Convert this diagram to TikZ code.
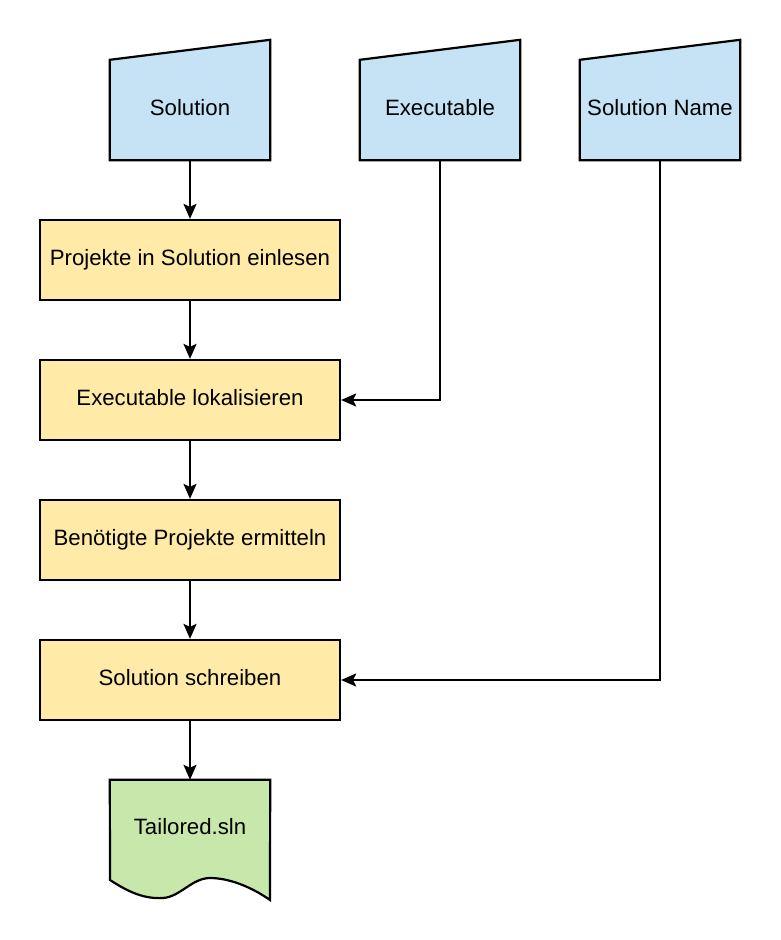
\documentclass[tikz,border=0pt]{standalone}
\usepackage{fontspec}
\setmainfont{Liberation Sans}
\usetikzlibrary{arrows.meta}
\definecolor{inblue}{RGB}{197,227,245}
\definecolor{procyel}{RGB}{255,234,167}
\definecolor{docgreen}{RGB}{200,231,170}
\tikzset{
  every node/.style={font=\fontsize{22.2}{26}\selectfont},
  shapeline/.style={draw=black, line width=2.2pt, line join=miter},
  proc/.style={shapeline, fill=procyel, minimum width=300pt, minimum height=80pt, inner sep=0pt, anchor=center, text height=16pt, text depth=5pt},
  frame/.style={minimum width=160pt, minimum height=120pt, inner sep=0pt},
  lbl/.style={inner sep=0pt},
  conn/.style={draw=black, line width=2.2pt, -{Stealth[length=15pt,width=13pt,inset=3pt]}},
}
\begin{document}
\begin{tikzpicture}[x=1pt,y=-1pt]
\useasboundingbox (0,0) rectangle (780,940);
% input frames
\node[frame] (sol) at (190,100) {};
\node[frame] (exe) at (440,100) {};
\node[frame] (sn)  at (660,100) {};
\foreach \n in {sol,exe,sn}{
  \draw[shapeline, fill=inblue] (\n.south west) -- (\n.south east) -- (\n.north east) -- ([yshift=-20pt]\n.north west) -- cycle;
}
\node[lbl] (solt) at (190,107.5) {Solution};
\node[lbl] (exet) at (440,107.5) {Executable};
\node[lbl] (snt)  at (660,107.5) {Solution Name};
% process boxes
\node[proc] (p1) at (190,260) {Projekte in Solution einlesen};
\node[proc] (p2) at (190,400) {Executable lokalisieren};
\node[proc] (p3) at (190,540) {Benötigte Projekte ermitteln};
\node[proc] (p4) at (190,680) {Solution schreiben};
% document
\node[minimum width=160pt, minimum height=120pt, inner sep=0pt] (doc) at (190,840) {};
\draw[shapeline, fill=docgreen] (doc.north west) -- (doc.north east) -- (270,900)
  .. controls (250,886) and (228,878) .. (210,878)
  .. controls (192,878) and (180,897) .. (163,898)
  .. controls (145,899) and (130,893) .. (110,880) -- cycle;
\node[lbl] (doct) at (190,827) {Tailored.sln};
% connectors
\draw[conn] (sol.south) -- (p1.north);
\draw[conn] (p1.south) -- (p2.north);
\draw[conn] (p2.south) -- (p3.north);
\draw[conn] (p3.south) -- (p4.north);
\draw[conn] (p4.south) -- (doc.north);
\draw[conn] (exe.south) |- (p2.east);
\draw[conn] (sn.south) |- (p4.east);
\end{tikzpicture}
\end{document}
